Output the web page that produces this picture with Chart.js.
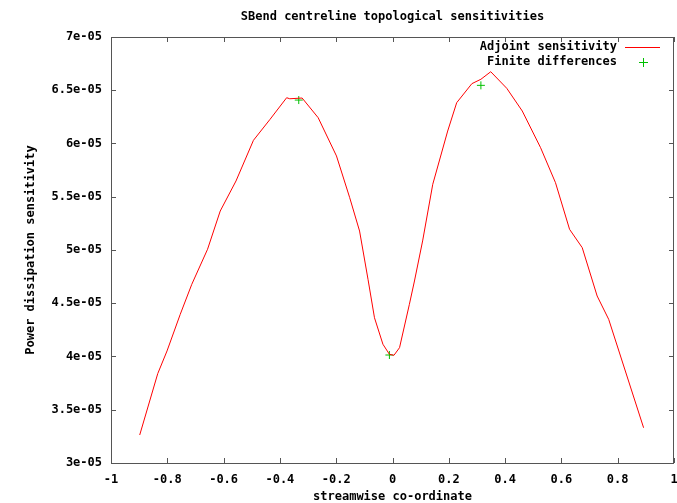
<!DOCTYPE html>
<html>
<head>
<meta charset="utf-8">
<script src="https://cdn.jsdelivr.net/npm/chart.js@4.4.1/dist/chart.umd.min.js"></script>
<style>
  html, body { margin: 0; padding: 0; background: #fff; }
  #wrap { width: 677px; height: 503px; }
</style>
</head>
<body>
<div id="wrap"><canvas id="sens"></canvas></div>
<script>
// adjoint sensitivity along the centreline
const adjX = [-0.898, -0.834, -0.801, -0.754, -0.713, -0.657, -0.612, -0.556, -0.494, -0.435,
    -0.376, -0.365, -0.321, -0.264, -0.199, -0.152, -0.117, -0.087, -0.064, -0.034,
    -0.011, 0.005, 0.025, 0.060, 0.078, 0.107, 0.143, 0.196, 0.228, 0.282,
    0.314, 0.349, 0.406, 0.461, 0.526, 0.579, 0.629, 0.674, 0.727, 0.768, 0.892];
const adjY = [3.263e-5, 3.839e-5, 4.052e-5, 4.396e-5, 4.678e-5, 5.007e-5, 5.366e-5, 5.648e-5, 6.030e-5, 6.227e-5,
    6.430e-5, 6.420e-5, 6.427e-5, 6.242e-5, 5.883e-5, 5.491e-5, 5.178e-5, 4.725e-5, 4.364e-5, 4.115e-5,
    4.021e-5, 4.011e-5, 4.083e-5, 4.490e-5, 4.709e-5, 5.085e-5, 5.617e-5, 6.117e-5, 6.383e-5, 6.562e-5,
    6.603e-5, 6.674e-5, 6.518e-5, 6.305e-5, 5.961e-5, 5.632e-5, 5.194e-5, 5.022e-5, 4.568e-5, 4.349e-5, 3.331e-5];

// finite difference checks
const fdX = [-0.333, -0.011, 0.314];
const fdY = [6.408e-5, 4.014e-5, 6.546e-5];

const xTicks = [-1, -0.8, -0.6, -0.4, -0.2, 0, 0.2, 0.4, 0.6, 0.8, 1];
const xTickLabels = ['-1', '-0.8', '-0.6', '-0.4', '-0.2', '0', '0.2', '0.4', '0.6', '0.8', '1'];
const yTicks = [3e-5, 3.5e-5, 4e-5, 4.5e-5, 5e-5, 5.5e-5, 6e-5, 6.5e-5, 7e-5];
const yTickLabels = ['3e-05', '3.5e-05', '4e-05', '4.5e-05', '5e-05', '5.5e-05', '6e-05', '6.5e-05', '7e-05'];

const MONO = '"DejaVu Sans Mono", "Liberation Mono", monospace';
const RED = '#ff0000', GREEN = '#00c000';

function pts(xs, ys) {
    let out = [];
    for (let i = 0; i < xs.length; i++) out.push({x: xs[i], y: ys[i]});
    return out;
}

// border, inward ticks on all four sides, and the key in the top right
const frame = {
    id: 'frame',
    afterDatasetsDraw(chart) {
        const ctx = chart.ctx;
        const a = chart.chartArea;
        const sx = chart.scales.x, sy = chart.scales.y;
        const tl = 5;
        ctx.save();
        ctx.strokeStyle = '#555';
        ctx.lineWidth = 1;
        ctx.beginPath();
        xTicks.forEach(v => {
            const px = Math.round(sx.getPixelForValue(v)) + 0.5;
            ctx.moveTo(px, a.bottom); ctx.lineTo(px, a.bottom - tl);
            ctx.moveTo(px, a.top); ctx.lineTo(px, a.top + tl);
        });
        yTicks.forEach(v => {
            const py = Math.round(sy.getPixelForValue(v)) + 0.5;
            ctx.moveTo(a.left, py); ctx.lineTo(a.left + tl, py);
            ctx.moveTo(a.right, py); ctx.lineTo(a.right - tl, py);
        });
        ctx.stroke();
        ctx.strokeRect(Math.round(a.left) + 0.5, Math.round(a.top) + 0.5,
            Math.round(a.right - a.left) - 1, Math.round(a.bottom - a.top));

        // key
        const ds = chart.data.datasets;
        ctx.font = 'bold 12px ' + MONO;
        ctx.textAlign = 'right';
        ctx.textBaseline = 'middle';
        const tx = a.right - 57, lx0 = Math.round(a.right - 49), lx1 = Math.round(a.right - 14);
        ds.forEach((d, i) => {
            const yy = Math.round(a.top + 10 + i * 15);
            ctx.fillStyle = '#000';
            ctx.fillText(d.label, tx, yy);
            if (i === 0) {
                ctx.fillStyle = RED;
                ctx.fillRect(lx0, yy, lx1 - lx0, 1);
            } else {
                const cx = Math.round((lx0 + lx1) / 2);
                ctx.fillStyle = GREEN;
                ctx.fillRect(cx - 4, yy, 9, 1);
                ctx.fillRect(cx, yy - 4, 1, 9);
            }
        });
        ctx.restore();
    }
};

new Chart(document.getElementById('sens'), {
    type: 'scatter',
    data: {
        datasets: [{
            label: 'Adjoint sensitivity',
            data: pts(adjX, adjY),
            showLine: true,
            borderColor: RED,
            borderWidth: 1,
            pointRadius: 0,
            tension: 0
        }, {
            label: 'Finite differences',
            data: pts(fdX, fdY),
            showLine: false,
            borderColor: GREEN,
            backgroundColor: GREEN,
            pointStyle: 'cross',
            pointRadius: 4,
            pointBorderWidth: 1
        }]
    },
    options: {
        responsive: true,
        maintainAspectRatio: false,
        animation: false,
        layout: { autoPadding: false, padding: { top: 0, right: 3, bottom: 0, left: 0 } },
        plugins: {
            legend: { display: false },
            tooltip: { enabled: false },
            title: {
                display: true,
                fullSize: false,
                text: 'SBend centreline topological sensitivities',
                color: '#000',
                font: { family: MONO, size: 12, weight: 'bold' },
                padding: { top: 10, bottom: 12.6 }
            }
        },
        scales: {
            x: {
                type: 'linear',
                min: -1,
                max: 1,
                afterFit: s => { s.height = 40; s.paddingLeft = 0; s.paddingRight = 0; },
                afterBuildTicks: s => { s.ticks = xTicks.map(v => ({value: v})); },
                grid: { display: false, drawTicks: false },
                border: { display: false },
                ticks: {
                    padding: 10,
                    color: '#000',
                    font: { family: MONO, size: 12, weight: 'bold' },
                    callback: (v, i) => xTickLabels[i]
                },
                title: {
                    display: true,
                    text: 'streamwise co-ordinate',
                    color: '#000',
                    font: { family: MONO, size: 12, weight: 'bold', lineHeight: 1 },
                    padding: { top: 0, bottom: 0 }
                }
            },
            y: {
                type: 'linear',
                min: 3e-5,
                max: 7e-5,
                afterFit: s => { s.width = 111; },
                afterBuildTicks: s => { s.ticks = yTicks.map(v => ({value: v})); },
                grid: { display: false, drawTicks: false },
                border: { display: false },
                ticks: {
                    padding: 9,
                    color: '#000',
                    font: { family: MONO, size: 12, weight: 'bold' },
                    callback: (v, i) => yTickLabels[i]
                },
                title: {
                    display: true,
                    text: 'Power dissipation sensitivity',
                    color: '#000',
                    font: { family: MONO, size: 12, weight: 'bold' },
                    padding: { top: 24, bottom: 0 }
                }
            }
        }
    },
    plugins: [frame]
});
</script>
</body>
</html>
